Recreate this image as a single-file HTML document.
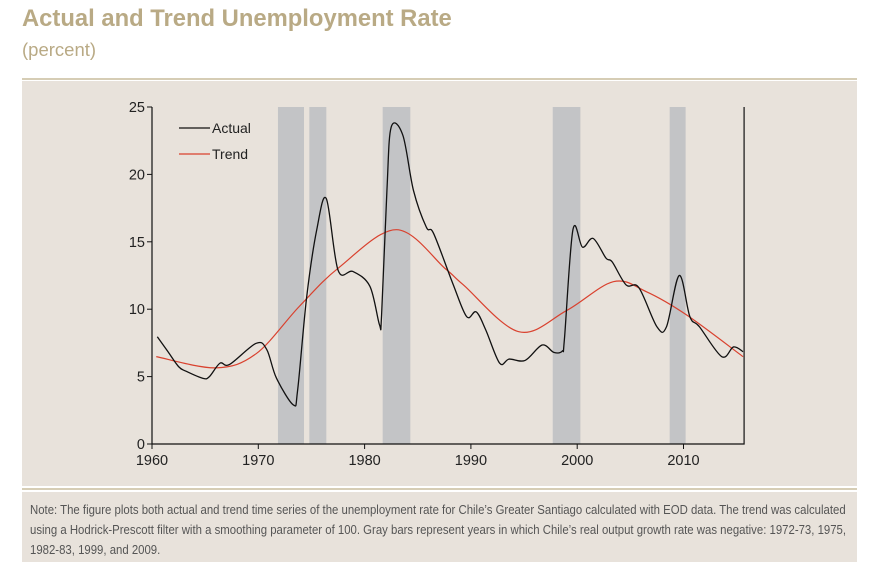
<!DOCTYPE html>
<html><head><meta charset="utf-8">
<style>
body{margin:0;width:873px;height:568px;background:#fff;font-family:"Liberation Sans",sans-serif;position:relative;overflow:hidden}
.title{position:absolute;left:22px;top:5px;font-size:23.8px;font-weight:bold;color:#b9aa85}
.sub{position:absolute;left:22px;top:39px;font-size:18.5px;color:#b9aa85}
.rule{position:absolute;left:22px;width:835px;height:2px;background:#d6cdb5}
.panel{position:absolute;left:22px;top:81px;width:835px;height:405px;background:#e8e2db}
.note{position:absolute;left:22px;top:492px;width:835px;height:70px;background:#e8e2db;overflow:hidden}
.note div{position:absolute;left:8px;font-size:12.5px;color:#555;white-space:nowrap;transform:scaleX(0.91);transform-origin:0 0}
svg{position:absolute;left:0;top:0}
</style></head><body>
<div class="title">Actual and Trend Unemployment Rate</div>
<div class="sub">(percent)</div>
<div class="rule" style="top:78px"></div>
<div class="panel"></div>
<div class="rule" style="top:488px;height:2px"></div>
<div class="note">
<div style="top:11px">Note: The figure plots both actual and trend time series of the unemployment rate for Chile’s Greater Santiago calculated with EOD data. The trend was calculated</div>
<div style="top:31px">using a Hodrick-Prescott filter with a smoothing parameter of 100. Gray bars represent years in which Chile’s real output growth rate was negative: 1972-73, 1975,</div>
<div style="top:51px">1982-83, 1999, and 2009.</div>
</div>
<svg id="chart" width="873" height="568"></svg>
<script>
const recessionStarts=[1971.85,1974.8,1981.7,1997.7,2008.7];
const recessionEnds=[1974.3,1976.4,1984.3,2000.3,2010.2];
const actualYears=[1960.5,1961.5,1962.5,1963.2,1964.8,1965.4,1966.4,1967.3,1969.8,1970.8,1971.7,1973.3,1973.7,1974.55,1975.5,1976.4,1977.5,1978.9,1980.5,1981.4,1981.6,1982.1,1982.5,1983.6,1984.6,1985.8,1986.5,1988.3,1989.6,1990.5,1991.4,1992.7,1993.6,1995.1,1996.7,1997.8,1998.6,1998.8,1999.6,2000.5,2001.5,2002.7,2003.3,2004.6,2005.8,2007.5,2008.4,2009.6,2010.6,2011.5,2013.6,2014.7,2015.6];
const actualValues=[7.96,6.85,5.74,5.4,4.87,5.0,6.0,5.9,7.47,7.0,4.9,2.9,4.0,10.9,15.9,18.2,12.9,12.8,11.7,8.85,9.6,18.8,23.5,22.9,18.8,16.1,15.6,11.9,9.45,9.8,8.46,6.0,6.3,6.2,7.34,6.8,6.9,7.8,15.9,14.6,15.25,13.8,13.5,11.8,11.6,8.7,8.7,12.5,9.45,8.7,6.48,7.2,6.85];
const trendYears=[1960.4,1966,1969.8,1973.85,1977.6,1983,1987.6,1989.3,1994.5,1999,2003.4,2006.5,2010.3,2015.6];
const trendValues=[6.48,5.65,6.7,10.2,13.1,15.9,13.0,11.8,8.33,9.9,12.04,11.3,9.57,6.48];
const xTicks=[1960,1970,1980,1990,2000,2010];
const yTicks=[0,5,10,15,20,25];
const NS='http://www.w3.org/2000/svg';
const svg=document.getElementById('chart');
const X=y=>152+(y-1960)*10.63;
const Y=v=>444-v*13.48;
function mk(t,a){const e=document.createElementNS(NS,t);for(const k in a)e.setAttribute(k,a[k]);svg.appendChild(e);return e;}
recessionStarts.forEach((s,i)=>{const r=mk('rect',{x:X(s),y:Y(25),width:X(recessionEnds[i])-X(s),height:Y(0)-Y(25),fill:'#c3c4c6'});

});
function path(xs,vs){const p=xs.map((x,i)=>[X(x),Y(vs[i])]);let d='M'+p[0][0]+','+p[0][1];
for(let i=0;i<p.length-1;i++){const p0=p[i-1]||p[i],p1=p[i],p2=p[i+1],p3=p[i+2]||p2;
d+=` C${p1[0]+(p2[0]-p0[0])/6},${p1[1]+(p2[1]-p0[1])/6} ${p2[0]-(p3[0]-p1[0])/6},${p2[1]-(p3[1]-p1[1])/6} ${p2[0]},${p2[1]}`;}return d;}
const ta=mk('path',{d:path(trendYears,trendValues),fill:'none',stroke:'#d9412e','stroke-width':1.2});


const ac=mk('path',{d:path(actualYears,actualValues),fill:'none',stroke:'#111','stroke-width':1.3});


const ax=mk('path',{d:`M${X(1960)},${Y(25)}V${Y(0)}H${X(2015.7)}V${Y(25)}`,fill:'none',stroke:'#111','stroke-width':1.2});


yTicks.forEach(v=>{mk('line',{x1:X(1960)-5,x2:X(1960),y1:Y(v),y2:Y(v),stroke:'#111'});
const t=mk('text',{x:X(1960)-7,y:Y(v)+5,'text-anchor':'end','font-size':14.5,fill:'#222'});t.textContent=v;

});
xTicks.forEach(v=>{mk('line',{x1:X(v),x2:X(v),y1:Y(0),y2:Y(0)+5,stroke:'#111'});
const t=mk('text',{x:X(v),y:Y(0)+21,'text-anchor':'middle','font-size':14.5,fill:'#222'});t.textContent=v;

});
[['Actual','#111',128],['Trend','#d9412e',154]].forEach(([n,c,y])=>{mk('line',{x1:179,x2:210,y1:y,y2:y,stroke:c,'stroke-width':1.3});
const t=mk('text',{x:212,y:y+5,'font-size':14,fill:'#222'});t.textContent=n;

});
</script>
</body></html>
